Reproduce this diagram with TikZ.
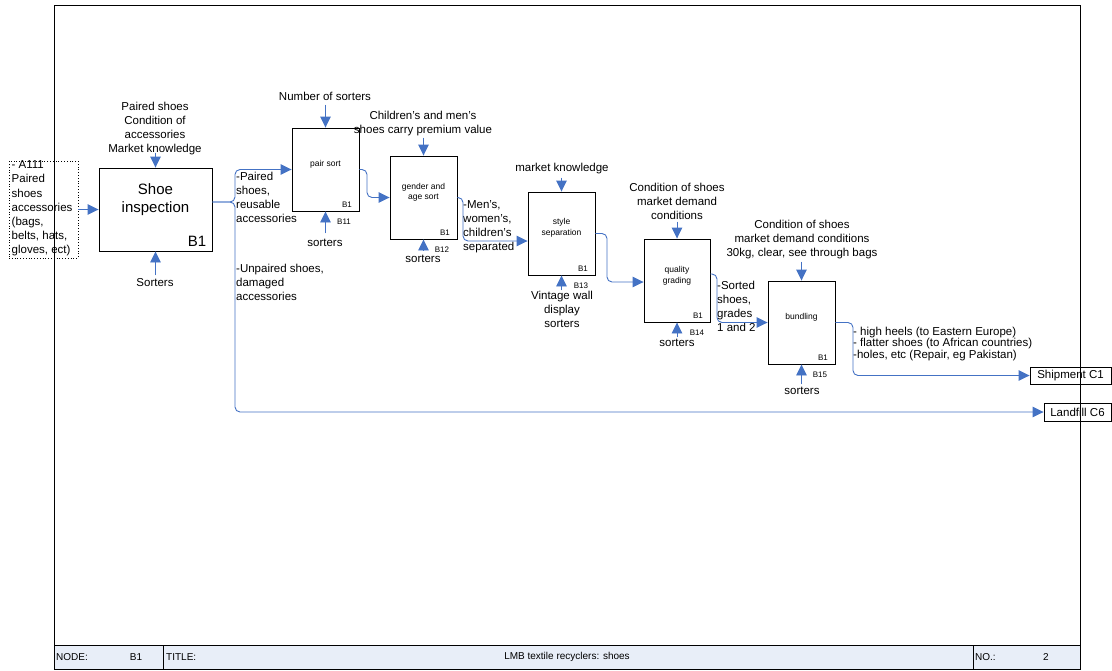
\documentclass[tikz,border=0pt]{standalone}
\usepackage{fontspec}
\setmainfont{Liberation Sans}
\usetikzlibrary{arrows.meta}
\definecolor{flowblue}{RGB}{68,114,196}
\definecolor{barfill}{RGB}{232,238,248}
\begin{document}
\begin{tikzpicture}[x=1pt,y=-1pt,
 flow/.style={draw=flowblue, line width=0.9pt, rounded corners=5pt, -{Triangle[length=11pt,width=10.5pt]}},
 proc/.style={draw, line width=0.9pt, minimum width=67pt, minimum height=83pt, inner sep=0pt, anchor=center},
 outbox/.style={draw, line width=0.9pt, minimum height=17pt, inner sep=0pt, font=\fontsize{11.5}{14}\selectfont},
 lbl/.style={font=\fontsize{11.5}{14}\selectfont, inner sep=0pt, align=center},
 lbll/.style={font=\fontsize{11.5}{14}\selectfont, inner sep=0pt, align=left, anchor=west},
 small/.style={font=\fontsize{8.5}{10.5}\selectfont, inner sep=0pt, align=center},
 tiny/.style={font=\fontsize{8}{9}\selectfont, inner sep=0pt},
 bartxt/.style={font=\fontsize{10}{12}\selectfont, inner sep=0pt},
]
\useasboundingbox (0,0) rectangle (1112,670);

% bottom bar
\fill[barfill] (54,645) rectangle (1080,669);
\draw[line width=0.9pt] (54,645) -- (1080,645);
\draw[line width=0.9pt] (163,645) -- (163,669);
\draw[line width=0.9pt] (973,645) -- (973,669);
\node[bartxt, anchor=west] (nodelbl) at (56,657) {NODE:};
\node[bartxt] (nodeval) at (136,657) {B1};
\node[bartxt, anchor=west] (titlelbl) at (166,657) {TITLE:};
\node[bartxt] (titleval) at (567,657) {LMB textile recyclers: shoes};
\node[bartxt, anchor=west] (nolbl) at (975,657) {NO.:};
\node[bartxt] (noval) at (1046,657) {2};

% A111 input box
\node[draw, dotted, line width=0.8pt, minimum width=69pt, minimum height=97pt, inner sep=0pt] (a111) at (43.5,209.5) {};
\node[font=\fontsize{11.5}{14.2}\selectfont, inner sep=0pt, align=left, anchor=west] (a111txt) at (11.5,208.5)
 {- A111\\Paired\\shoes\\accessories\\(bags,\\belts, hats,\\gloves, ect)};

% main box
\node[proc, minimum width=113pt] (shoe) at (155.5,209.5) {};
\node[font=\fontsize{15}{18}\selectfont, inner sep=0pt, align=center] (shoetxt) at (155.5,200) {Shoe\\inspection};
\node[font=\fontsize{15}{18}\selectfont, inner sep=0pt] (shoeb) at (197,241) {B1};
\node[lbl] (shoetop) at (155,128.5) {Paired shoes\\Condition of\\accessories\\Market knowledge};
\node[lbl] (shoebot) at (155,283) {Sorters};

% sub boxes
\node[proc] (pair) at (325.5,169.5) {};
\node[proc] (gender) at (423.5,197.5) {};
\node[proc] (style) at (561.5,233.5) {};
\node[proc, minimum width=66pt] (quality) at (677,280.5) {};
\node[proc] (bundling) at (801.5,322.5) {};

\node[small] (pairtxt) at (325.5,164) {pair sort};
\node[small] (gendertxt) at (423.5,192.5) {gender and\\age sort};
\node[small] (styletxt) at (561.5,228) {style\\separation};
\node[small] (qualitytxt) at (677,276) {quality\\grading};
\node[small] (bundlingtxt) at (801.5,317) {bundling};

\node[tiny] (pairb) at (347,205) {B1};
\node[tiny] (genderb) at (445,233) {B1};
\node[tiny] (styleb) at (583,269) {B1};
\node[tiny] (qualityb) at (698,316) {B1};
\node[tiny] (bundlingb) at (823,358) {B1};

\node[tiny] (b11) at (344,222) {B11};
\node[tiny] (b12) at (442,250) {B12};
\node[tiny] (b13) at (581,286) {B13};
\node[tiny] (b14) at (697,333) {B14};
\node[tiny] (b15) at (820,375) {B15};

% control / mechanism labels
\node[lbl] (pairtop) at (325,96) {Number of sorters};
\node[lbl] (pairbot) at (325,243) {sorters};
\node[lbl] (gendertop) at (423,124) {Children's and men's\\shoes carry premium value};
\node[lbl] (genderbot) at (423,259) {sorters};
\node[lbl] (styletop) at (562,169) {market knowledge};
\node[lbl] (stylebot) at (562,309.5) {Vintage wall\\display\\sorters};
\node[lbl] (qualitytop) at (677,201) {Condition of shoes\\market demand\\conditions};
\node[lbl] (qualitybot) at (677,343) {sorters};
\node[lbl] (bundlingtop) at (802,240) {Condition of shoes\\market demand conditions\\30kg, clear, see through bags};
\node[lbl] (bundlingbot) at (802,391) {sorters};

% output labels
\node[lbll] (out1) at (236,197) {-Paired\\shoes,\\reusable\\accessories};
\node[lbll] (out2) at (236,282) {-Unpaired shoes,\\damaged\\accessories};
\node[lbll] (out3) at (463,227) {-Men's,\\women's,\\children's\\separated};
\node[lbll] (out4) at (717,306.5) {-Sorted\\shoes,\\grades\\1 and 2};
\node[font=\fontsize{11.5}{11.3}\selectfont, inner sep=0pt, align=left, anchor=west] (out5) at (853,343.8)
 {- high heels (to Eastern Europe)\\- flatter shoes (to African countries)\\-holes, etc (Repair, eg Pakistan)};

% output boxes
\node[outbox, minimum width=81pt] (shipment) at (1070.5,375.5) {Shipment C1};
\node[outbox, minimum width=67pt, minimum height=18pt] (landfill) at (1077.5,412) {Landfill C6};

% flows
\draw[flow] (a111) -- (shoe);
\draw[flow] ([yshift=7.5pt]shoe.east) -- (235,202) -- (235,169.5) -- (pair.west);
\draw[flow] ([yshift=7.5pt]shoe.east) -- (235,202) -- (235,412) -- (landfill.west);
\draw[flow] (pair.east) -- (367,169.5) -- (367,197.5) -- (gender.west);
\draw[flow] (gender.east) -- (463,197.5) -- (463,241) -- ([yshift=-7.5pt]style.west);
\draw[flow] (style.east) -- (607,233.5) -- (607,282) -- ([yshift=-1.5pt]quality.west);
\draw[flow] ([yshift=6.5pt]quality.east) -- (717,274) -- (717,322.5) -- (bundling.west);
\draw[flow] (bundling.east) -- (853,322.5) -- (853,375.5) -- (shipment.west);

% controls (down)
\draw[flow] ([yshift=15pt]shoe.north) -- (shoe.north);
\draw[flow] ([yshift=23pt]pair.north) -- (pair.north);
\draw[flow] ([yshift=18pt]gender.north) -- (gender.north);
\draw[flow] ([yshift=14pt]style.north) -- (style.north);
\draw[flow] ([yshift=17pt]quality.north) -- (quality.north);
\draw[flow] ([yshift=19pt]bundling.north) -- (bundling.north);
% mechanisms (up)
\draw[flow] ([yshift=-24pt]shoe.south) -- (shoe.south);
\draw[flow] ([yshift=-22pt]pair.south) -- (pair.south);
\draw[flow] ([yshift=-11pt]gender.south) -- (gender.south);
\draw[flow] ([yshift=-15pt]style.south) -- (style.south);
\draw[flow] ([yshift=-15pt]quality.south) -- (quality.south);
\draw[flow] ([yshift=-20pt]bundling.south) -- (bundling.south);

% frame
\draw[line width=0.9pt] (54,669) -- (54,5) -- (1080,5) -- (1080,669) -- cycle;
\end{tikzpicture}
\end{document}
